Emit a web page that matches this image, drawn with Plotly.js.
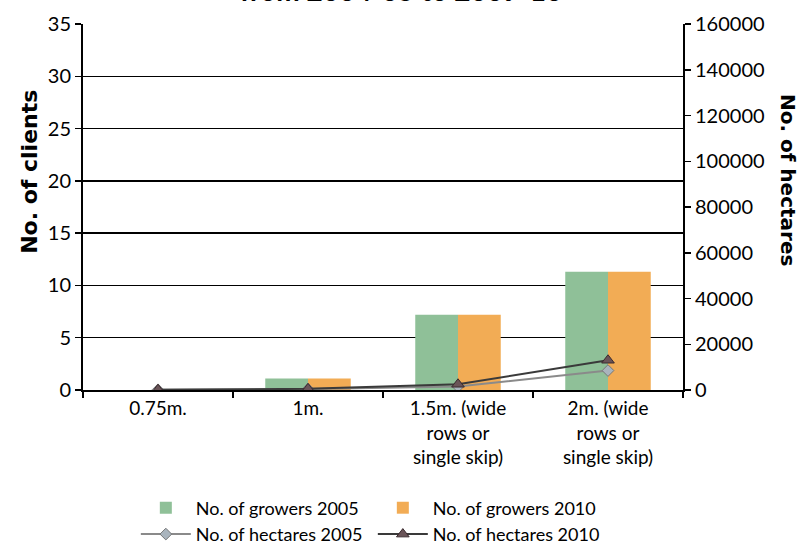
<!DOCTYPE html>
<html>
<head>
<meta charset="utf-8">
<script src="https://cdn.plot.ly/plotly-3.0.1.min.js"></script>
<style>html,body{margin:0;padding:0;background:#fff;}</style>
</head>
<body>
<div id="chart" style="width:799px;height:550px;"></div>
<script>
const categories = ["0.75m.", "1m.", "1.5m. (wide<br>rows or<br>single skip)", "2m. (wide<br>rows or<br>single skip)"];
const growers2005 = [0, 1.1, 7.2, 11.3];
const growers2010 = [0, 1.1, 7.2, 11.3];
const hectares2005 = [100, 400, 1500, 8500];
const hectares2010 = [100, 500, 2500, 13000];
const leftTicks = [0, 5, 10, 15, 20, 25, 30, 35];
const rightTicks = [0, 20000, 40000, 60000, 80000, 100000, 120000, 140000, 160000];

const tickFont = {family: "Lato, 'Open Sans', sans-serif", size: 20, color: "#000"};

const traces = [
  {type: "bar", name: "No. of growers 2005", x: categories, y: growers2005,
   marker: {color: "#8fc098"}, yaxis: "y"},
  {type: "bar", name: "No. of growers 2010", x: categories, y: growers2010,
   marker: {color: "#f2ac55"}, yaxis: "y"},
  {type: "scatter", mode: "lines+markers", name: "No. of hectares 2005", x: categories, y: hectares2005,
   yaxis: "y2", line: {color: "#8a8a8a", width: 2},
   marker: {symbol: "diamond", size: 9, color: "#a9b4bd", line: {color: "#777", width: 1}}},
  {type: "scatter", mode: "lines+markers", name: "No. of hectares 2010", x: categories, y: hectares2010,
   yaxis: "y2", line: {color: "#3a3a3a", width: 2},
   marker: {symbol: "triangle-up", size: 11, color: "#6a5458", line: {color: "#3a2a2e", width: 1}}}
];

const layout = {
  width: 799, height: 550,
  margin: {l: 83, r: 116, t: 24, b: 160, autoexpand: false},
  paper_bgcolor: "#fff", plot_bgcolor: "#fff",
  barmode: "group", bargap: 0.43, bargroupgap: 0,
  showlegend: true,
  legend: {orientation: "h", xref: "container", yref: "container", x: 0.17, xanchor: "left",
           y: 0.11, yanchor: "top",
           entrywidth: 172, entrywidthmode: "pixels", traceorder: "normal",
           font: {family: "Lato, 'Open Sans', sans-serif", size: 18, color: "#000"},
           itemwidth: 50, tracegroupgap: 0},
  xaxis: {
    type: "category", tickfont: {family: "Lato, 'Open Sans', sans-serif", size: 19, color: "#000"},
    showline: true, linecolor: "#000", linewidth: 2,
    ticks: "outside", tickson: "boundaries", ticklen: 6, tickcolor: "#000", tickwidth: 1.5,
    showgrid: false, zeroline: false, fixedrange: true
  },
  yaxis: {
    range: [0, 35], tickvals: leftTicks, tickfont: tickFont,
    showline: true, linecolor: "#000", linewidth: 2,
    ticks: "outside", ticklen: 6, tickcolor: "#000", tickwidth: 1.5,
    showgrid: true, gridcolor: "#000", gridwidth: 1.3, zeroline: false
  },
  yaxis2: {
    range: [0, 160000], tickvals: rightTicks, tickformat: "d", tickfont: tickFont,
    overlaying: "y", side: "right",
    showline: true, linecolor: "#000", linewidth: 2,
    ticks: "outside", ticklen: 6, tickcolor: "#000", tickwidth: 1.5,
    showgrid: false, zeroline: false
  },
  annotations: [
    {text: "<b>from 2004-05 to 2009-10</b>", xref: "paper", yref: "paper", x: 0.53, y: 1,
     xanchor: "center", yanchor: "bottom", yshift: 15, showarrow: false,
     font: {family: "Lato, sans-serif", size: 28, color: "#000"}},
    {text: "<b>No. of clients</b>", xref: "paper", yref: "paper", x: 0, y: 0.596,
     xanchor: "center", yanchor: "middle", xshift: -53, textangle: -90, showarrow: false,
     font: {family: "'DejaVu Sans', sans-serif", size: 22, color: "#000"}},
    {text: "<b>No. of hectares</b>", xref: "paper", yref: "paper", x: 1, y: 0.574,
     xanchor: "center", yanchor: "middle", xshift: 105, textangle: 90, showarrow: false,
     font: {family: "'DejaVu Sans', sans-serif", size: 20, color: "#000"}}
  ]
};

Plotly.newPlot("chart", traces, layout, {displayModeBar: false, staticPlot: true});
</script>
</body>
</html>
